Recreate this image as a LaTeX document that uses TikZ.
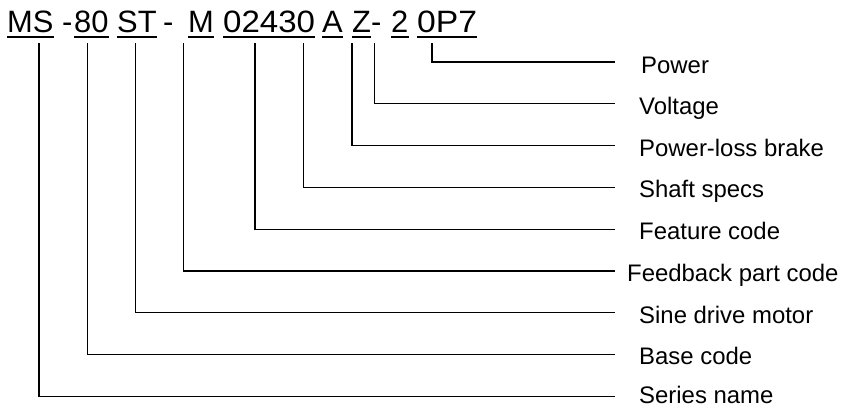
\documentclass[tikz,border=0pt]{standalone}
\usepackage{fontspec}
\setmainfont{Liberation Sans}
\begin{document}
\begin{tikzpicture}[x=1bp,y=-1bp,
  tok/.style={inner sep=0pt, anchor=base west, font=\fontsize{31}{36}\selectfont},
  lab/.style={inner sep=0pt, anchor=base west, font=\fontsize{24}{28}\selectfont},
  conn/.style={line width=1.3bp},
  uline/.style={line width=2.6bp}]
\useasboundingbox (0,0) rectangle (851,407);
% code tokens
\node[tok] (tMS) at (7,32) {MS};
\node[tok] (tD1) at (62,32) {-};
\node[tok] (t80) at (74,32) {80};
\node[tok] (tST) at (117,32) {ST};
\node[tok] (tD2) at (163,32) {-};
\node[tok] (tM) at (188,32) {M};
\node[tok] (tF) at (223,32) {\scalebox{1.07}[1]{02430}};
\node[tok] (tA) at (322,32) {A};
\node[tok] (tZ) at (352,32) {Z};
\node[tok] (tD3) at (371,32) {-};
\node[tok] (t2) at (391,32) {2};
\node[tok] (tP) at (417,32) {\scalebox{1.09}[1]{0P7}};
\foreach \t in {tMS,t80,tST,tM,tF,tA,tZ,t2,tP}
  \draw[uline] ([yshift=-5bp]\t.base west) -- ([yshift=-5bp]\t.base east);
% connector starts
\coordinate (c1) at (39,43);
\coordinate (c2) at (87.5,43);
\coordinate (c3) at (135.5,43);
\coordinate (c4) at (183.5,43);
\coordinate (c5) at (255,43);
\coordinate (c6) at (303.5,43);
\coordinate (c7) at (352,43);
\coordinate (c8) at (374.5,43);
\coordinate (c9) at (432,43);
% connector ends
\coordinate (e9) at (615,62);
\coordinate (e8) at (615,103.8);
\coordinate (e7) at (615,145.6);
\coordinate (e6) at (615,187.4);
\coordinate (e5) at (615,229.2);
\coordinate (e4) at (615,271);
\coordinate (e3) at (615,312.8);
\coordinate (e2) at (615,354.6);
\coordinate (e1) at (615,396.4);
% labels
\node[lab] (l9) at (641,73) {Power};
\node[lab] (l8) at (639,114) {Voltage};
\node[lab] (l7) at (639,156) {Power-loss brake};
\node[lab] (l6) at (639,197.6) {Shaft specs};
\node[lab] (l5) at (639,239.4) {Feature code};
\node[lab] (l4) at (627,281.2) {Feedback part code};
\node[lab] (l3) at (639,323) {Sine drive motor};
\node[lab] (l2) at (639,364.8) {Base code};
\node[lab] (l1) at (639,403.5) {Series name};
\foreach \i in {1,...,9}
  \draw[conn] (c\i) |- (e\i);
\end{tikzpicture}
\end{document}
